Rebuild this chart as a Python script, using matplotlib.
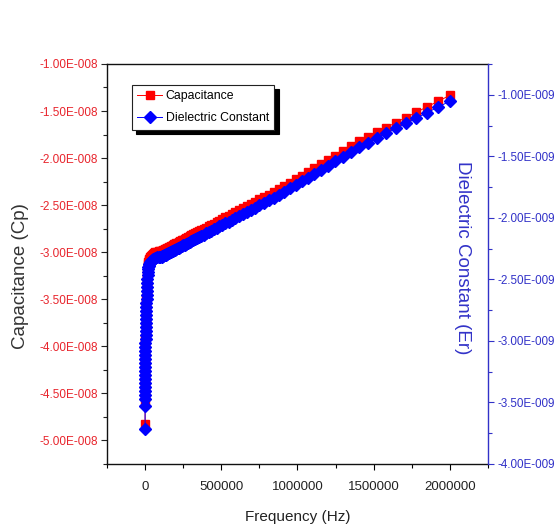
import matplotlib
matplotlib.use("Agg")
import matplotlib.pyplot as plt
from matplotlib.ticker import FuncFormatter, MultipleLocator

plt.rcParams["font.family"] = ["Liberation Sans", "DejaVu Sans"]

# frequency sweep (Hz)
freq = [
    20, 40, 60, 90, 130, 180, 250, 330, 430, 550, 700, 880, 1100, 1350,
    1650, 2000, 2400, 2850, 3350, 3900, 4500, 5150, 5850, 6600, 7400,
    8250, 9150, 10100, 11100, 12150, 13250, 14400, 15600, 16900, 18300,
    19800, 21500, 23500, 26000, 29000, 33000, 38000, 44000, 51000, 59000,
    68000, 78000, 88000, 99000,
    110000, 114000, 119000, 124000, 129000, 134000, 139000, 145000, 150000,
    156000, 163000, 169000, 176000, 183000, 190000, 198000, 206000, 214000,
    222000, 231000, 241000, 250000, 260000, 271000, 281000, 293000, 304000,
    317000, 329000, 342000, 356000, 370000, 385000, 401000, 417000, 433000,
    451000, 469000, 487000, 507000, 527000, 548000, 570000, 593000, 617000,
    641000, 667000, 694000, 721000, 750000, 780000, 811000, 844000, 878000,
    913000, 949000, 987000, 1027000, 1068000, 1110000, 1155000, 1201000,
    1249000, 1299000, 1351000, 1405000, 1461000, 1520000, 1581000, 1644000,
    1710000, 1778000, 1849000, 1923000, 2000000,
]

# capacitance Cp, in units of 1e-8
cap = [
    -4.820, -4.575, -4.501, -4.459, -4.416, -4.374, -4.332, -4.289, -4.247,
    -4.204, -4.162, -4.119, -4.077, -4.034, -3.992, -3.950, -3.907, -3.865,
    -3.822, -3.780, -3.737, -3.695, -3.652, -3.610, -3.568, -3.525, -3.483,
    -3.440, -3.398, -3.355, -3.313, -3.271, -3.228, -3.186, -3.149, -3.122,
    -3.101, -3.085, -3.069, -3.058, -3.048, -3.037, -3.027, -3.016, -3.007,
    -2.999, -2.994, -2.990, -2.987,
    -2.985, -2.982, -2.978, -2.973, -2.969, -2.965, -2.961, -2.955, -2.951,
    -2.946, -2.941, -2.935, -2.929, -2.924, -2.917, -2.911, -2.903, -2.897,
    -2.890, -2.882, -2.874, -2.866, -2.858, -2.848, -2.840, -2.830, -2.821,
    -2.809, -2.799, -2.788, -2.776, -2.764, -2.752, -2.738, -2.724, -2.710,
    -2.695, -2.680, -2.665, -2.648, -2.631, -2.613, -2.594, -2.575, -2.553,
    -2.533, -2.511, -2.488, -2.465, -2.440, -2.414, -2.388, -2.359, -2.328,
    -2.295, -2.260, -2.224, -2.186, -2.146, -2.106, -2.062, -2.019, -1.973,
    -1.925, -1.874, -1.822, -1.775, -1.726, -1.676, -1.624, -1.570, -1.515,
    -1.456, -1.396, -1.333,
]

# dielectric constant Er, in units of 1e-9
diel = [
    -3.717, -3.530, -3.474, -3.441, -3.409, -3.376, -3.344, -3.311, -3.279,
    -3.247, -3.214, -3.182, -3.149, -3.117, -3.084, -3.052, -3.019, -2.987,
    -2.955, -2.922, -2.890, -2.857, -2.825, -2.792, -2.760, -2.728, -2.695,
    -2.663, -2.630, -2.598, -2.565, -2.533, -2.500, -2.468, -2.440, -2.419,
    -2.403, -2.391, -2.379, -2.371, -2.363, -2.354, -2.346, -2.338, -2.332,
    -2.325, -2.321, -2.319, -2.316,
    -2.315, -2.312, -2.309, -2.306, -2.303, -2.299, -2.296, -2.292, -2.289,
    -2.285, -2.281, -2.277, -2.272, -2.268, -2.263, -2.258, -2.252, -2.247,
    -2.242, -2.236, -2.229, -2.224, -2.217, -2.210, -2.204, -2.196, -2.189,
    -2.180, -2.173, -2.164, -2.155, -2.146, -2.136, -2.126, -2.115, -2.105,
    -2.093, -2.081, -2.070, -2.057, -2.044, -2.030, -2.015, -2.001, -1.985,
    -1.969, -1.952, -1.934, -1.917, -1.898, -1.878, -1.858, -1.836, -1.813,
    -1.787, -1.761, -1.733, -1.704, -1.673, -1.642, -1.609, -1.576, -1.541,
    -1.504, -1.466, -1.426, -1.389, -1.352, -1.314, -1.274, -1.233, -1.191,
    -1.146, -1.100, -1.052,
]

CAP_SCALE = 1e-8
DIEL_SCALE = 1e-9

RED = "#ff0000"
BLUE = "#0000ff"
RED_TXT = "#e8242c"
BLUE_TXT = "#3232c8"


def origin_sci(v, pos):
    """Origin-style label, e.g. -1.00E-008."""
    m, e = f"{v:.2E}".split("E")
    return f"{m}E{int(e):+04d}"


fig = plt.figure(figsize=(5.59, 5.26), dpi=100)
ax = fig.add_axes([0.1914, 0.1179, 0.6816, 0.7605])
ax2 = ax.twinx()

cp = [c * CAP_SCALE for c in cap]
er = [d * DIEL_SCALE for d in diel]

l1, = ax.plot(freq, cp, color=RED, lw=0.7, marker="s", ms=5.6,
              mfc=RED, mec=RED, label="Capacitance")
l2, = ax2.plot(freq, er, color=BLUE, lw=0.7, marker="D", ms=6.2,
               mfc=BLUE, mec=BLUE, label="Dielectric Constant")

ax.set_xlim(-250000, 2250000)
ax.set_ylim(-5.25e-8, -1.0e-8)
ax2.set_ylim(-4.0e-9, -0.75e-9)

ax.xaxis.set_major_locator(MultipleLocator(500000))
ax.xaxis.set_minor_locator(MultipleLocator(250000))
ax.yaxis.set_major_locator(MultipleLocator(0.5e-8))
ax.yaxis.set_minor_locator(MultipleLocator(0.25e-8))
ax2.yaxis.set_major_locator(MultipleLocator(0.5e-9))
ax2.yaxis.set_minor_locator(MultipleLocator(0.25e-9))
ax.yaxis.set_major_formatter(FuncFormatter(origin_sci))
ax2.yaxis.set_major_formatter(FuncFormatter(origin_sci))
ax.xaxis.set_major_formatter(FuncFormatter(lambda v, p: f"{int(round(v))}"))
ax2.xaxis.set_visible(False)
# no offset texts anywhere (they are empty anyway)
for axis in (ax.xaxis, ax.yaxis, ax2.yaxis):
    axis.offsetText.set_visible(False)

ax.tick_params(axis="y", which="major", direction="out", length=4.5,
               width=0.8, pad=2, labelsize=8.5, colors="#222222")
ax.tick_params(axis="y", which="minor", direction="out", length=3, width=0.8,
               colors="#222222")
ax.tick_params(axis="y", labelcolor=RED_TXT)
ax.tick_params(axis="x", which="major", direction="out", length=4.5,
               width=0.8, pad=8, labelsize=9.5, labelcolor="#222222")
ax.tick_params(axis="x", which="minor", direction="out", length=3, width=0.8)
ax2.tick_params(axis="y", which="major", direction="out", length=4.5,
                width=0.8, pad=2, labelsize=8.4, colors=BLUE_TXT)
ax2.tick_params(axis="y", which="minor", direction="out", length=3,
                width=0.8, colors=BLUE_TXT)

for s in ("left", "top", "bottom"):
    ax.spines[s].set_color("#111111")
    ax.spines[s].set_linewidth(1.0)
ax2.spines["right"].set_color(BLUE_TXT)
ax2.spines["right"].set_linewidth(1.0)
ax2.spines["left"].set_visible(False)
ax2.spines["top"].set_visible(False)
ax2.spines["bottom"].set_visible(False)
ax.spines["right"].set_visible(False)

ax.set_xlabel("Frequency (Hz)", fontsize=11, color="#222222", va="center")
ax.xaxis.set_label_coords(0.5, -0.1325)
ax.set_ylabel("Capacitance (Cp)", fontsize=13.5, color="#333333", va="center")
ax.yaxis.set_label_coords(-0.2257, 0.47)
ax.text(0.934, 0.516, "Dielectric Constant (Er)", transform=ax.transAxes,
        rotation=-90, ha="center", va="center", fontsize=13.5, color=BLUE_TXT)

leg = ax2.legend(handles=[l1, l2], loc="upper left",
                 bbox_to_anchor=(0.0656, 0.9475), borderaxespad=0,
                 fontsize=8.8, frameon=True, fancybox=False,
                 shadow={"color": "black", "alpha": 1, "ox": 3, "oy": -3},
                 handlelength=2.0, handletextpad=0.3, borderpad=0.45,
                 labelspacing=0.8)
leg.get_frame().set_edgecolor("#222222")
leg.get_frame().set_linewidth(0.8)

fig.savefig("out.png", dpi=100, facecolor="white")
